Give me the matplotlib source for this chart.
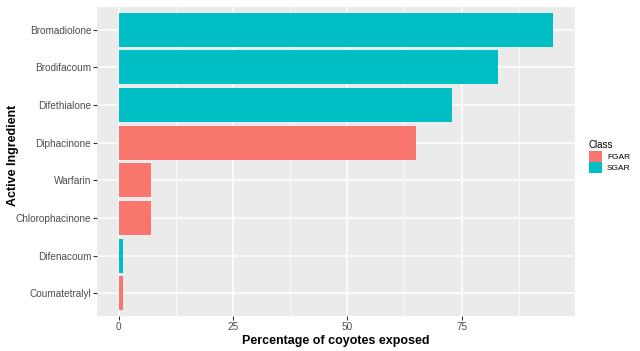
import matplotlib.pyplot as plt
from matplotlib.patches import Patch

ingredients = ["Bromadiolone", "Brodifacoum", "Difethialone", "Diphacinone",
               "Warfarin", "Chlorophacinone", "Difenacoum", "Coumatetralyl"]
percent = [95, 83, 73, 65, 7, 7, 1, 1]
classes = ["SGAR", "SGAR", "SGAR", "FGAR", "FGAR", "FGAR", "SGAR", "FGAR"]
colours = {"FGAR": "#F8766D", "SGAR": "#00BFC4"}

plt.rcParams['font.family'] = ['Liberation Sans', 'DejaVu Sans']

fig = plt.figure(figsize=(6.4, 3.51), dpi=100)
ax = fig.add_axes([0.1516, 0.0997, 0.7464, 0.8803])

n = len(ingredients)
ys = [n - 1 - i for i in range(n)]
ax.barh(ys, percent, height=0.9, color=[colours[c] for c in classes], zorder=3)

ax.set_facecolor("#EBEBEB")
ax.set_xlim(-4.75, 99.75)
ax.set_ylim(-0.6, n - 0.4)
ax.set_xticks([0, 25, 50, 75])
ax.set_xticks([12.5, 37.5, 62.5, 87.5], minor=True)
ax.set_yticks(ys)
ax.set_yticklabels(ingredients)
ax.grid(which="major", color="white", linewidth=1.1, zorder=0)
ax.grid(which="minor", axis="x", color="white", linewidth=0.55, zorder=0)
for s in ax.spines.values():
  s.set_visible(False)
ax.tick_params(which="major", color="#333333", length=2.7, width=0.8,
               labelcolor="#4D4D4D", labelsize=7.2, pad=1.5)
ax.tick_params(which="minor", length=0)

ax.set_xlabel("Percentage of coyotes exposed", fontsize=9, fontweight="bold", labelpad=2)
ax.set_ylabel("Active Ingredient", fontsize=9, fontweight="bold")
ax.yaxis.set_label_coords(-0.163, 0.52)

handles = [Patch(facecolor=colours[k], label=k) for k in ["FGAR", "SGAR"]]
leg = fig.legend(handles=handles, title="Class", loc="upper left",
                 bbox_to_anchor=(0.92, 0.6), frameon=False, fontsize=6,
                 title_fontsize=7, handlelength=1.6, handleheight=1.6,
                 handletextpad=0.6, labelspacing=0.05, borderpad=0,
                 borderaxespad=0)
leg._legend_box.align = "left"

fig.savefig("out.png", dpi=100)
